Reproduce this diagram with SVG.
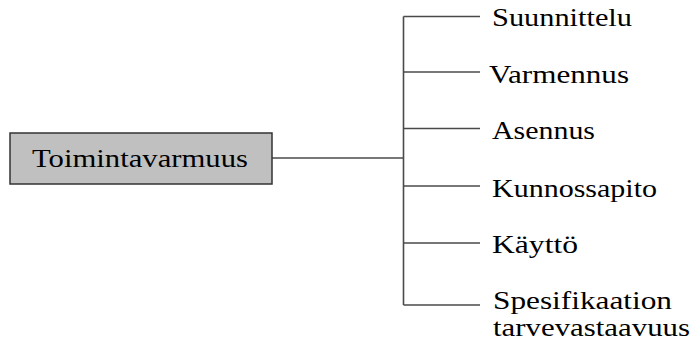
<svg xmlns="http://www.w3.org/2000/svg" width="693" height="343" viewBox="0 0 693 343">
  <style>
    .lbl { font-family: "Liberation Serif", "Times New Roman", serif; font-size: 26px; fill: #000; }
    .conn { stroke: #4a4a4a; stroke-width: 1.6; fill: none; }
    .root { fill: #c0c0c0; stroke: #333; stroke-width: 1.5; }
  </style>
  <rect width="693" height="343" fill="#fff"/>

  <g id="connectors">
    <path class="conn" d="M272 158 H403.5"/>
    <path class="conn" d="M403.5 16.5 V305"/>
    <path class="conn" d="M403.5 16.5 H480"/>
    <path class="conn" d="M403.5 72 H480"/>
    <path class="conn" d="M403.5 128.5 H480"/>
    <path class="conn" d="M403.5 186 H480"/>
    <path class="conn" d="M403.5 243 H480"/>
    <path class="conn" d="M403.5 305 H480"/>
  </g>

  <g id="toimintavarmuus">
    <rect class="root" x="10" y="133" width="262" height="51"/>
    <text class="lbl" x="32" y="167" textLength="216" lengthAdjust="spacingAndGlyphs">Toimintavarmuus</text>
  </g>

  <g id="suunnittelu">
    <text class="lbl" x="492" y="26" textLength="140" lengthAdjust="spacingAndGlyphs">Suunnittelu</text>
  </g>
  <g id="varmennus">
    <text class="lbl" x="489" y="83" textLength="140" lengthAdjust="spacingAndGlyphs">Varmennus</text>
  </g>
  <g id="asennus">
    <text class="lbl" x="492" y="139" textLength="103" lengthAdjust="spacingAndGlyphs">Asennus</text>
  </g>
  <g id="kunnossapito">
    <text class="lbl" x="492" y="197" textLength="165" lengthAdjust="spacingAndGlyphs">Kunnossapito</text>
  </g>
  <g id="kayttö">
    <text class="lbl" x="492" y="253" textLength="86" lengthAdjust="spacingAndGlyphs">Käyttö</text>
  </g>
  <g id="spesifikaation-tarvevastaavuus">
    <text class="lbl" x="493" y="309" textLength="179" lengthAdjust="spacingAndGlyphs">Spesifikaation</text>
    <text class="lbl" x="493" y="336" textLength="197" lengthAdjust="spacingAndGlyphs">tarvevastaavuus</text>
  </g>
</svg>
